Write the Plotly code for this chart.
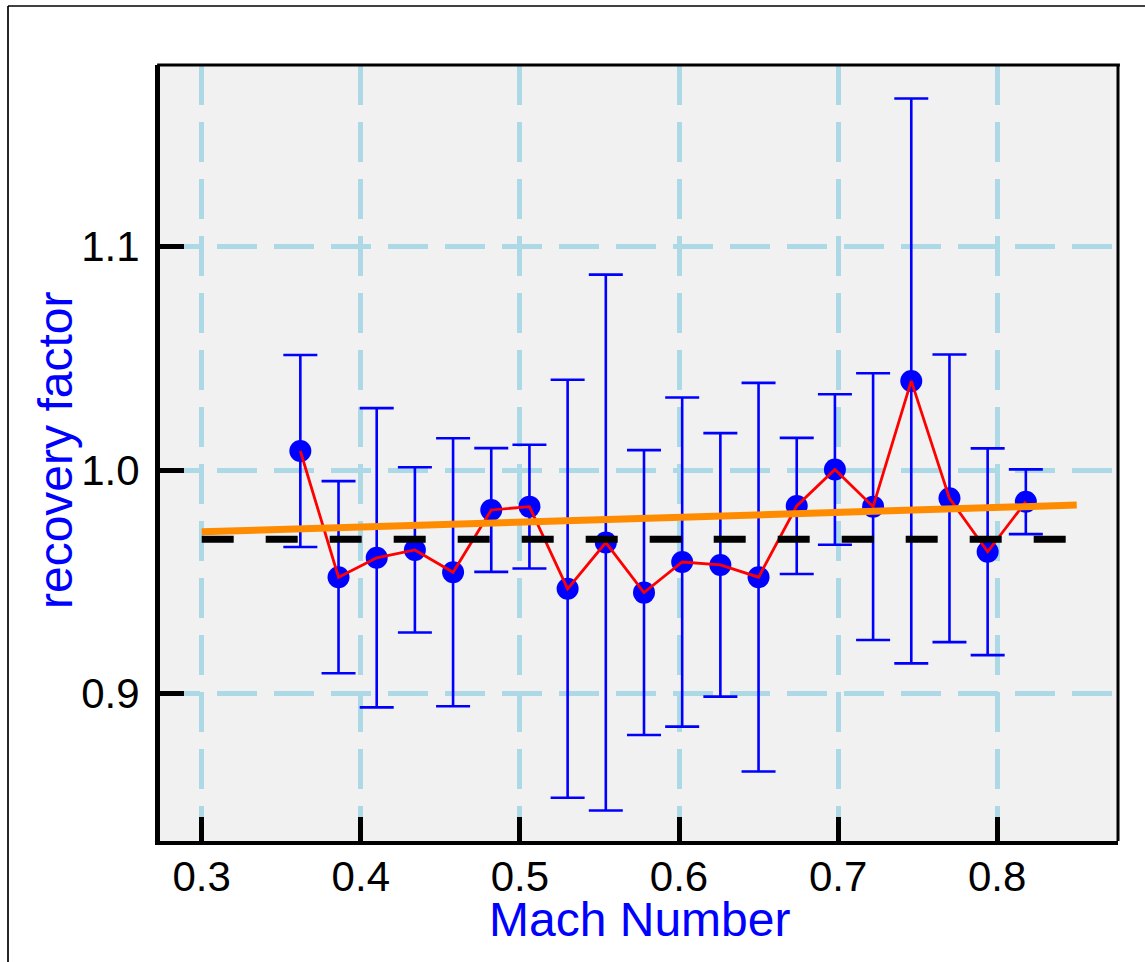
import plotly.graph_objects as go

# ---- data ----
mach = [0.362, 0.386, 0.410, 0.434, 0.458, 0.482, 0.506, 0.530, 0.554, 0.578,
        0.602, 0.626, 0.650, 0.674, 0.698, 0.722, 0.746, 0.770, 0.794, 0.818]
recovery = [1.0085, 0.952, 0.9607, 0.9642, 0.9542, 0.9821, 0.9836, 0.9468, 0.9675, 0.9451,
            0.9588, 0.9575, 0.952, 0.9839, 1.0002, 0.9836, 1.0399, 0.9873, 0.9634, 0.9858]
recovery_err = [0.043, 0.043, 0.067, 0.037, 0.060, 0.0277, 0.0277, 0.0936, 0.120, 0.0638,
                0.0737, 0.059, 0.087, 0.0305, 0.0337, 0.0597, 0.1265, 0.0644, 0.0463, 0.0145]
ref_x = [0.30, 0.85]
ref_level = [0.969, 0.969]
fit_x = [0.30, 0.85]
fit_y = [0.9723, 0.9843]
x_ticks = [0.3, 0.4, 0.5, 0.6, 0.7, 0.8]
x_tick_text = ["0.3", "0.4", "0.5", "0.6", "0.7", "0.8"]
y_ticks = [0.9, 1.0, 1.1]
y_tick_text = ["0.9", "1.0", "1.1"]

FONT = "Liberation Sans, Arial, Helvetica, sans-serif"

fig = go.Figure()

fig.add_trace(go.Scatter(
    x=mach, y=recovery, mode="markers",
    marker=dict(color="#0000ff", size=22),
    error_y=dict(type="data", array=recovery_err, visible=True,
                 color="#0000ff", thickness=2.6, width=17),
    showlegend=False, hoverinfo="x+y"))

fig.add_trace(go.Scatter(
    x=mach, y=recovery, mode="lines",
    line=dict(color="#ff0000", width=2.8),
    showlegend=False))

fig.add_trace(go.Scatter(
    x=ref_x, y=ref_level, mode="lines",
    line=dict(color="#000000", width=7, dash="32px,32px"),
    showlegend=False))

fig.add_trace(go.Scatter(
    x=fit_x, y=fit_y, mode="lines",
    line=dict(color="#ff8c00", width=7),
    showlegend=False))

L, R, T, B = 160, 27, 65, 121
W, H = 1145, 962
pw = W - L - R
ph = H - T - B

grid = dict(showgrid=True, gridcolor="#add8e6", gridwidth=5, griddash="40px,17px")

fig.update_layout(
    width=W, height=H,
    margin=dict(l=L, r=R, t=T, b=B, pad=0),
    paper_bgcolor="#ffffff",
    plot_bgcolor="#f1f1f1",
    font=dict(family=FONT, color="#000000"),
    xaxis=dict(range=[0.27379, 0.87593], tickvals=x_ticks, ticktext=x_tick_text,
               ticks="inside", ticklen=24, tickwidth=5, tickcolor="#000000",
               showline=True, linecolor="#000000", linewidth=4, mirror=False,
               zeroline=False, tickfont=dict(size=42, family=FONT, color="#000000"),
               ticklabelstandoff=-4,
               **grid),
    yaxis=dict(range=[0.83386, 1.18137], tickvals=y_ticks, ticktext=y_tick_text,
               ticks="inside", ticklen=24, tickwidth=5, tickcolor="#000000",
               showline=True, linecolor="#000000", linewidth=5, mirror=False,
               zeroline=False, tickfont=dict(size=42, family=FONT, color="#000000"),
               ticklabelstandoff=7,
               **grid),
    shapes=[
        # top and right borders of plot area
        dict(type="line", xref="paper", yref="paper", x0=-0.003, x1=1.002, y0=1.0, y1=1.0,
             line=dict(color="#000000", width=3), layer="above"),
        dict(type="line", xref="paper", yref="paper", x0=1.0, x1=1.0, y0=0.0, y1=1.0,
             line=dict(color="#000000", width=3), layer="above"),
        # outer figure frame (left and top)
        dict(type="line", xref="paper", yref="paper",
             x0=(8 - L) / pw, x1=(8 - L) / pw, y0=-0.3, y1=(H - B - 6) / ph,
             line=dict(color="#000000", width=1.7)),
        dict(type="line", xref="paper", yref="paper",
             x0=(8 - L) / pw, x1=1.2, y0=(H - B - 6) / ph, y1=(H - B - 6) / ph,
             line=dict(color="#000000", width=1.7)),
    ],
    annotations=[
        dict(text="Mach Number", xref="paper", yref="paper",
             x=(639 - L) / pw, y=(H - B - 919) / ph, xanchor="center", yanchor="middle",
             showarrow=False, font=dict(size=48, family=FONT, color="#0000ff")),
        dict(text="recovery factor", xref="paper", yref="paper", textangle=-90,
             x=(55 - L) / pw, y=(H - B - 451) / ph, xanchor="center", yanchor="middle",
             showarrow=False, font=dict(size=48, family=FONT, color="#0000ff")),
    ],
)

fig.write_html("out.html")
